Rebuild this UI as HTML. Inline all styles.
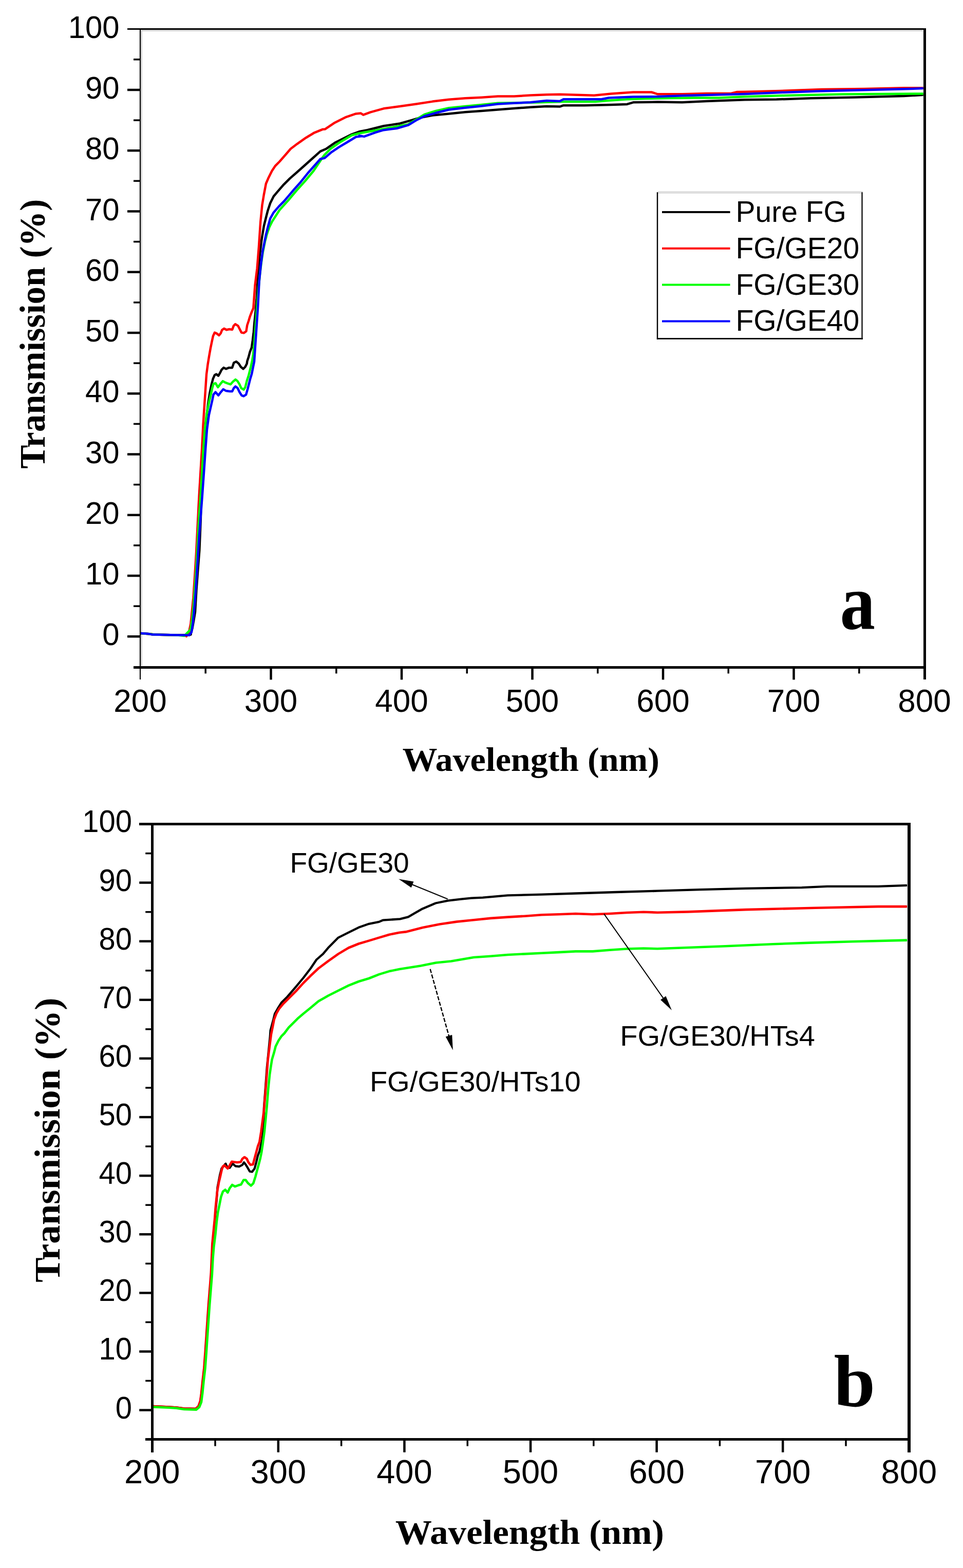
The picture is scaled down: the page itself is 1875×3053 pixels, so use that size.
<!DOCTYPE html>
<html><head><meta charset="utf-8"><title>Transmission spectra</title>
<style>html,body{margin:0;padding:0;background:#fff;overflow:hidden}svg{display:block}</style>
</head><body>
<svg width="1875" height="3053" viewBox="0 0 1875 3053"><rect width="1875" height="3053" fill="#fff"/><line x1="270.1" y1="56.7" x2="270.1" y2="1322" stroke="#e6e6e6" stroke-width="2.4" /><line x1="275.5" y1="59" x2="275.5" y2="1296" stroke="#cdcdcd" stroke-width="2.7" /><line x1="274" y1="53.7" x2="1797" y2="53.7" stroke="#eeeeee" stroke-width="1.6" /><line x1="274" y1="59.5" x2="1797" y2="59.5" stroke="#d4d4d4" stroke-width="2.8" /><path d="M273,1233 L290,1234.2 L300,1235.6 L320,1236 L345,1236.4 L368,1236.8 L371.5,1235.5 L371.9,1231.8 L374.4,1223.9 L377.4,1207 L379.9,1192 L382.4,1149.3 L385.3,1110.4 L388.3,1071.6 L390.8,1011.9 L391.8,966.9 L394.5,920.2 L397.2,873.5 L399.8,836.1 L402.6,808 L405.3,785 L408.5,765.1 L411.7,749.2 L414.8,737.3 L418,730.2 L421.2,728.6 L425.2,731.7 L428.3,726.2 L431.5,719.8 L435.5,715.9 L440.2,718.3 L445.8,715.9 L452.1,715.9 L455.3,706.3 L460.1,704 L464.8,707.9 L468.8,714.3 L473.6,718.3 L477.5,714.3 L480.7,707.9 L481.3,703.2 L484,695.2 L486.6,685.3 L489.9,676.7 L491.9,662.8 L493.9,646.3 L495.2,629.8 L496.6,616.5 L497.9,603.3 L499.8,580.7 L502.2,539.4 L505.5,498 L509.7,464.9 L513.8,440.1 L517.9,423.6 L521.3,410.4 L526.2,395.5 L532.8,382.3 L541.1,372.4 L552.7,359.1 L564.2,347.6 L577.5,336 L592.4,322.8 L607.2,309.5 L623.8,294.6 L635.3,289.7 L651.9,278.1 L668.4,269.8 L684.9,261.6 L699.4,256.3 L715.2,253.2 L747,245.2 L778.7,240.5 L801,234.1 L816.8,229.4 L842.2,224.6 L874,221.4 L905.7,218.3 L937.5,216 L969.2,213.5 L1001,211 L1032.7,208.7 L1064.4,207.1 L1090,207.6 L1097.1,205.2 L1137.6,205.2 L1190,204 L1221,202.9 L1232.9,199.3 L1280.5,198.6 L1328.1,199.3 L1375.7,196.9 L1450,194.3 L1511.9,193.6 L1578.6,191.2 L1664.3,189.5 L1759.5,187.1 L1797.6,184.8" fill="none" stroke="#000" stroke-width="4.5" stroke-linejoin="round" stroke-linecap="butt" /><path d="M273,1233 L290,1234.2 L300,1235.6 L320,1236 L345,1236.4 L360,1237 L363,1238.8 L368.4,1228.9 L371.4,1213.9 L373.9,1189.1 L376.4,1164.2 L379.4,1119.4 L381.9,1079.6 L384.4,1029.9 L387.6,966.9 L390.4,920.2 L393.2,873.5 L395.6,826.7 L397.4,798.7 L402,729 L404.6,709.1 L407.3,692.6 L409.9,678 L412.6,664.8 L414.9,654.2 L417.9,647.6 L421.2,648.9 L426.5,652.9 L429.8,648.9 L432.4,642.3 L436.4,639.7 L441,642.3 L446.3,641 L452.2,641.7 L454.9,634.4 L458.2,631.1 L463.5,634.4 L466.8,641 L470.1,647.6 L474.7,648.3 L479.4,645 L481.3,633.1 L484,625.1 L486.6,616.5 L489.9,607.9 L493.3,600 L496.5,555.9 L500.6,522.8 L503.9,481.5 L507.2,431.9 L510.5,398.8 L513.8,379 L517.9,357.5 L522.9,345.9 L529.5,332.7 L536.1,322.8 L544.4,314.5 L556,301.3 L565.9,289.7 L579.1,279.8 L595.7,268.2 L612.2,258.3 L628.7,251.7 L632.7,251.6 L651.7,238.9 L674,227.8 L693,221.4 L702.5,220.5 L707.3,223.7 L721.6,218.3 L747,211.3 L778.7,207.1 L810.5,202.4 L842.2,197.6 L874,193.8 L905.7,191.3 L937.5,189.7 L969.2,187.5 L1001,187.5 L1032.7,185.6 L1064.4,184.3 L1090,183.8 L1156.7,185.7 L1190,182.6 L1232.9,179.5 L1268.6,179.5 L1280.5,183.3 L1328.1,183.3 L1375.7,181.9 L1423.3,181.9 L1435.2,179 L1450,178.8 L1519,176.9 L1600,174 L1683.3,172.9 L1759.5,171.2 L1797.6,171.2" fill="none" stroke="#f00" stroke-width="4.5" stroke-linejoin="round" stroke-linecap="butt" /><path d="M273,1233 L290,1234.2 L300,1235.6 L320,1236 L345,1236.4 L359,1238 L370.9,1225.9 L373.9,1207 L376.4,1184.1 L379.4,1144.3 L381.9,1109.5 L384.4,1064.7 L387.3,1010 L390.4,966.9 L393.2,920.2 L396,873.5 L398.8,836.1 L402.1,808 L406.9,783.3 L410.1,769.8 L413.3,755.6 L415.6,747.6 L419.6,746 L424.4,754 L429.1,747.6 L433.9,742.1 L439.4,745.2 L444.2,746.8 L449,748.4 L453.7,742.9 L458.5,738.9 L462.5,742.1 L466.4,748.4 L469.6,755.6 L474.4,758.7 L477.5,754 L480.7,741.3 L483.9,731.7 L486.3,722.2 L488.7,712.7 L491,702.4 L493,690 L495.5,665 L498,630 L500.5,597 L503,565 L506,535 L509,510 L512,490 L516,470 L520,455 L524.5,442 L529.5,431.9 L544.4,408.7 L560.9,390.5 L577.5,370.7 L594,352.5 L610.5,332.7 L627.1,307.9 L632,301.3 L643.6,289.7 L660.1,278.1 L684.9,263.2 L699.4,259.5 L747,251 L794.6,242.1 L826.3,223 L848.6,216 L874,210.3 L905.7,207.1 L937.5,204 L969.2,200.8 L1032.7,199.8 L1094.8,198.1 L1118.6,198.1 L1159,198.1 L1185.2,195.7 L1221,193.3 L1256.7,192.1 L1304.3,191 L1351.9,190.5 L1399.5,190.5 L1450,188.3 L1528.6,186 L1640.5,183.6 L1711.9,183.1 L1797.6,182.4" fill="none" stroke="#0f0" stroke-width="4.5" stroke-linejoin="round" stroke-linecap="butt" /><path d="M273,1232.9 L288.8,1234 L296.7,1235.6 L320.6,1236 L344.4,1236.4 L368.2,1236.8 L372.9,1230.8 L375.4,1213.9 L377.9,1189.1 L380.4,1159.2 L382.4,1129.4 L384.9,1089.6 L387.3,1049.8 L393.7,966.9 L397,920.2 L400.2,873.5 L403,836.1 L406.8,808 L413.3,779.4 L415.6,768.3 L419.6,763.5 L425.2,769.8 L429.9,763.5 L434.7,757.9 L440.2,761.1 L447.4,761.9 L452.1,761.9 L455.3,755.6 L458.5,752.4 L462.5,755.6 L466.4,763.5 L470.4,769.8 L474.4,771.4 L479.1,768.3 L482.3,757.1 L484.7,747.6 L487.1,738.1 L490.2,727.8 L492.6,715.9 L495,704 L502.2,597.2 L504.7,547.6 L508,514.6 L511.3,489.7 L514.6,473.2 L517.9,456.7 L522.1,440.1 L526.2,425.3 L532.8,413.7 L542.8,402.1 L552.7,392.2 L562.6,380.6 L572.5,369 L585.7,354.2 L599,337.6 L610.5,324.4 L623.8,309.5 L632,307.9 L645.3,296.3 L660.1,286.4 L676.7,276.5 L693.2,266.5 L704.8,264.9 L699.4,264.3 L708.9,265.9 L731.1,257.9 L747,253.2 L772.4,250 L794.6,243.7 L810.5,234.1 L826.3,226.2 L848.6,219.8 L874,213.5 L905.7,209.7 L937.5,206.5 L969.2,202.4 L1001,200.8 L1032.7,199.2 L1064.4,196 L1090,196.9 L1097.1,193.3 L1171,193.3 L1185.2,190.5 L1232.9,188.6 L1280.5,188.1 L1328.1,186.2 L1375.7,185 L1423.3,183.8 L1450,183.1 L1521.4,180 L1592.9,177.6 L1683.3,175.2 L1752.4,173.6 L1797.6,172.1" fill="none" stroke="#00f" stroke-width="4.5" stroke-linejoin="round" stroke-linecap="butt" /><line x1="273" y1="56.7" x2="273" y2="1323.4" stroke="#000" stroke-width="2.2" shape-rendering="crispEdges"/><line x1="248" y1="56.7" x2="1802.5" y2="56.7" stroke="#000" stroke-width="3" shape-rendering="crispEdges"/><line x1="1800" y1="55.2" x2="1800" y2="1323.4" stroke="#000" stroke-width="5" shape-rendering="crispEdges"/><line x1="260" y1="1299.3" x2="1800" y2="1299.3" stroke="#000" stroke-width="5.5" shape-rendering="crispEdges"/><line x1="248" y1="1239.3" x2="273" y2="1239.3" stroke="#000" stroke-width="4.5" /><line x1="260" y1="1180.2" x2="273" y2="1180.2" stroke="#000" stroke-width="3.5" /><line x1="248" y1="1121" x2="273" y2="1121" stroke="#000" stroke-width="4.5" /><line x1="260" y1="1061.9" x2="273" y2="1061.9" stroke="#000" stroke-width="3.5" /><line x1="248" y1="1002.8" x2="273" y2="1002.8" stroke="#000" stroke-width="4.5" /><line x1="260" y1="943.6" x2="273" y2="943.6" stroke="#000" stroke-width="3.5" /><line x1="248" y1="884.5" x2="273" y2="884.5" stroke="#000" stroke-width="4.5" /><line x1="260" y1="825.4" x2="273" y2="825.4" stroke="#000" stroke-width="3.5" /><line x1="248" y1="766.3" x2="273" y2="766.3" stroke="#000" stroke-width="4.5" /><line x1="260" y1="707.1" x2="273" y2="707.1" stroke="#000" stroke-width="3.5" /><line x1="248" y1="648" x2="273" y2="648" stroke="#000" stroke-width="4.5" /><line x1="260" y1="588.9" x2="273" y2="588.9" stroke="#000" stroke-width="3.5" /><line x1="248" y1="529.7" x2="273" y2="529.7" stroke="#000" stroke-width="4.5" /><line x1="260" y1="470.6" x2="273" y2="470.6" stroke="#000" stroke-width="3.5" /><line x1="248" y1="411.5" x2="273" y2="411.5" stroke="#000" stroke-width="4.5" /><line x1="260" y1="352.3" x2="273" y2="352.3" stroke="#000" stroke-width="3.5" /><line x1="248" y1="293.2" x2="273" y2="293.2" stroke="#000" stroke-width="4.5" /><line x1="260" y1="234.1" x2="273" y2="234.1" stroke="#000" stroke-width="3.5" /><line x1="248" y1="175" x2="273" y2="175" stroke="#000" stroke-width="4.5" /><line x1="260" y1="115.8" x2="273" y2="115.8" stroke="#000" stroke-width="3.5" /><line x1="400.2" y1="1298.4" x2="400.2" y2="1311.4" stroke="#000" stroke-width="3.5" /><line x1="527.5" y1="1298.4" x2="527.5" y2="1323.4" stroke="#000" stroke-width="4.5" /><line x1="654.8" y1="1298.4" x2="654.8" y2="1311.4" stroke="#000" stroke-width="3.5" /><line x1="782" y1="1298.4" x2="782" y2="1323.4" stroke="#000" stroke-width="4.5" /><line x1="909.2" y1="1298.4" x2="909.2" y2="1311.4" stroke="#000" stroke-width="3.5" /><line x1="1036.5" y1="1298.4" x2="1036.5" y2="1323.4" stroke="#000" stroke-width="4.5" /><line x1="1163.8" y1="1298.4" x2="1163.8" y2="1311.4" stroke="#000" stroke-width="3.5" /><line x1="1291" y1="1298.4" x2="1291" y2="1323.4" stroke="#000" stroke-width="4.5" /><line x1="1418.2" y1="1298.4" x2="1418.2" y2="1311.4" stroke="#000" stroke-width="3.5" /><line x1="1545.5" y1="1298.4" x2="1545.5" y2="1323.4" stroke="#000" stroke-width="4.5" /><line x1="1672.8" y1="1298.4" x2="1672.8" y2="1311.4" stroke="#000" stroke-width="3.5" /><text transform="translate(232.5,1256.3) scale(0.965,1)" font-family="'Liberation Sans', Arial, sans-serif" font-size="62" text-anchor="end">0</text><text transform="translate(232.5,1138) scale(0.965,1)" font-family="'Liberation Sans', Arial, sans-serif" font-size="62" text-anchor="end">10</text><text transform="translate(232.5,1019.8) scale(0.965,1)" font-family="'Liberation Sans', Arial, sans-serif" font-size="62" text-anchor="end">20</text><text transform="translate(232.5,901.5) scale(0.965,1)" font-family="'Liberation Sans', Arial, sans-serif" font-size="62" text-anchor="end">30</text><text transform="translate(232.5,783.3) scale(0.965,1)" font-family="'Liberation Sans', Arial, sans-serif" font-size="62" text-anchor="end">40</text><text transform="translate(232.5,665) scale(0.965,1)" font-family="'Liberation Sans', Arial, sans-serif" font-size="62" text-anchor="end">50</text><text transform="translate(232.5,546.7) scale(0.965,1)" font-family="'Liberation Sans', Arial, sans-serif" font-size="62" text-anchor="end">60</text><text transform="translate(232.5,428.5) scale(0.965,1)" font-family="'Liberation Sans', Arial, sans-serif" font-size="62" text-anchor="end">70</text><text transform="translate(232.5,310.2) scale(0.965,1)" font-family="'Liberation Sans', Arial, sans-serif" font-size="62" text-anchor="end">80</text><text transform="translate(232.5,192) scale(0.965,1)" font-family="'Liberation Sans', Arial, sans-serif" font-size="62" text-anchor="end">90</text><text transform="translate(232.5,73.7) scale(0.965,1)" font-family="'Liberation Sans', Arial, sans-serif" font-size="62" text-anchor="end">100</text><text transform="translate(273,1385.8) scale(0.983,1)" font-family="'Liberation Sans', Arial, sans-serif" font-size="63" text-anchor="middle">200</text><text transform="translate(527.5,1385.8) scale(0.983,1)" font-family="'Liberation Sans', Arial, sans-serif" font-size="63" text-anchor="middle">300</text><text transform="translate(782,1385.8) scale(0.983,1)" font-family="'Liberation Sans', Arial, sans-serif" font-size="63" text-anchor="middle">400</text><text transform="translate(1036.5,1385.8) scale(0.983,1)" font-family="'Liberation Sans', Arial, sans-serif" font-size="63" text-anchor="middle">500</text><text transform="translate(1291,1385.8) scale(0.983,1)" font-family="'Liberation Sans', Arial, sans-serif" font-size="63" text-anchor="middle">600</text><text transform="translate(1545.5,1385.8) scale(0.983,1)" font-family="'Liberation Sans', Arial, sans-serif" font-size="63" text-anchor="middle">700</text><text transform="translate(1800,1385.8) scale(0.983,1)" font-family="'Liberation Sans', Arial, sans-serif" font-size="63" text-anchor="middle">800</text><line x1="1281.2" y1="374.6" x2="1679.8" y2="374.6" stroke="#dedede" stroke-width="4.6" /><line x1="1280" y1="374.2" x2="1280" y2="660.7" stroke="#000" stroke-width="2.4" /><line x1="1678.5" y1="374.2" x2="1678.5" y2="660.7" stroke="#2a2a2a" stroke-width="2.7" /><line x1="1278.9" y1="659.4" x2="1679.8" y2="659.4" stroke="#000" stroke-width="2.6" /><line x1="1289" y1="413" x2="1421.5" y2="413" stroke="#000" stroke-width="4" /><text x="1432.5" y="432" font-family="'Liberation Sans', Arial, sans-serif" font-size="57" font-weight="normal" text-anchor="start" >Pure FG</text><line x1="1289" y1="483.8" x2="1421.5" y2="483.8" stroke="#f00" stroke-width="4" /><text x="1432.5" y="502.8" font-family="'Liberation Sans', Arial, sans-serif" font-size="57" font-weight="normal" text-anchor="start" >FG/GE20</text><line x1="1289" y1="554.6" x2="1421.5" y2="554.6" stroke="#0f0" stroke-width="4" /><text x="1432.5" y="573.6" font-family="'Liberation Sans', Arial, sans-serif" font-size="57" font-weight="normal" text-anchor="start" >FG/GE30</text><line x1="1289" y1="625.4" x2="1421.5" y2="625.4" stroke="#00f" stroke-width="4" /><text x="1432.5" y="644.4" font-family="'Liberation Sans', Arial, sans-serif" font-size="57" font-weight="normal" text-anchor="start" >FG/GE40</text><text x="1033.6" y="1501" font-family="'Liberation Serif', 'Times New Roman', serif" font-size="66" font-weight="bold" text-anchor="middle" textLength="500.4" lengthAdjust="spacingAndGlyphs">Wavelength (nm)</text><text transform="translate(87,650.2) rotate(-90)" x="0" y="0" font-family="'Liberation Serif', 'Times New Roman', serif" font-size="68.8" font-weight="bold" text-anchor="middle" textLength="524.6" lengthAdjust="spacingAndGlyphs">Transmission (%)</text><text transform="translate(1641.7,1223.5) scale(0.89,1)" x="-6.9" y="0" font-family="'Liberation Serif', 'Times New Roman', serif" font-size="154" font-weight="bold">a</text><path d="M297.4,2738 L328.6,2739.5 L343.5,2740.5 L358.3,2742.5 L381,2743 L386.5,2738 L390,2728 L392.5,2712.7 L394.8,2690 L397.8,2664 L400.1,2633 L402.1,2603 L406.3,2542 L411.2,2481 L412.6,2450 L413.8,2421.8 L416.2,2397.4 L418.6,2373.1 L420,2354.8 L421.8,2336.5 L423.5,2311.7 L428.3,2287.1 L431.4,2275.2 L439.4,2265.7 L441.7,2271.3 L447.3,2273.7 L452.9,2265.7 L458.4,2270.5 L465.6,2271.3 L471.9,2268.1 L475.1,2263.3 L478.3,2267.3 L482.2,2273.7 L486.2,2280.8 L491,2281.6 L495.7,2275.2 L498.9,2263.3 L502.1,2249.8 L505.2,2241.9 L508.4,2227.6 L510.4,2219.7 L513.2,2195.9 L513.9,2157 L516.9,2117.3 L519.8,2077.6 L522.8,2047.9 L525.8,2018.1 L526.6,2006.4 L532.3,1985 L535.1,1973.7 L540.8,1963.7 L547.9,1952.3 L559.3,1941 L576.4,1921.1 L590.6,1904 L604.8,1885.5 L616.2,1868.5 L629,1857.4 L638.9,1845.5 L648.8,1835.6 L658.7,1825.6 L678.6,1815.7 L698.4,1805.8 L718.3,1798.8 L738.1,1794.9 L745.2,1791.7 L778.9,1789.3 L794.8,1785.3 L808.6,1777.4 L822.5,1769.4 L848.3,1758.5 L872.1,1753.6 L897.9,1750.6 L917.8,1748.6 L940,1747.6 L988.4,1743.3 L1054.6,1741.7 L1120.7,1739.5 L1200,1737 L1280,1734.7 L1362.7,1732.1 L1452,1729.8 L1561.1,1728.1 L1610.7,1725.8 L1709.9,1725.8 L1766.1,1723.8" fill="none" stroke="#000" stroke-width="4.3" stroke-linejoin="round" stroke-linecap="butt" /><path d="M297.4,2738 L328.6,2739.5 L343.5,2740.5 L358.3,2742.5 L381,2743 L386.5,2738 L390,2728 L392,2712.7 L394.3,2690 L397.3,2664 L399.6,2633 L401.6,2603 L405.8,2542 L410.7,2481 L412.1,2450 L413.3,2421.8 L415.7,2397.4 L418.1,2373.1 L419.4,2354.8 L421.2,2336.5 L423.1,2318.9 L425.9,2303 L428.7,2291.1 L431.4,2279.2 L433.8,2271.3 L437,2268.9 L443.3,2275.2 L447.3,2268.9 L451.3,2261.7 L456,2262.5 L461.6,2263.3 L468.7,2262.5 L471.9,2256.2 L475.9,2253 L480.6,2256.2 L483.8,2263.3 L487.8,2268.1 L492.5,2267.3 L495.7,2255.4 L498.9,2243.5 L502.1,2231.6 L505.2,2223.7 L508.4,2203.8 L513.8,2162.7 L516.7,2127.2 L519.5,2091.6 L521.6,2063.2 L525.2,2034.8 L528,2013.5 L530.9,1999.3 L533.7,1985 L538,1973.7 L543.7,1963.7 L550.8,1955.2 L562.1,1943.8 L576.4,1929.6 L590.6,1914 L604.8,1899.8 L620,1885.5 L638.9,1871.3 L658.7,1857.4 L678.6,1845.5 L698.4,1837.5 L718.3,1831.6 L738.1,1825.6 L757.9,1819.7 L777.8,1815.7 L790,1814.4 L823.1,1806.1 L856.1,1799.5 L889.2,1794.6 L922.3,1791.3 L955.3,1787.9 L988.4,1785.6 L1021.5,1783.7 L1054.6,1781.3 L1087.6,1780.3 L1120.7,1779 L1153.8,1780.3 L1186.8,1779 L1219.9,1777 L1253,1775.7 L1280,1776.7 L1339.5,1775.4 L1452,1771.1 L1587.5,1767.8 L1709.9,1765.1 L1766.1,1765.1" fill="none" stroke="#f00" stroke-width="4.6" stroke-linejoin="round" stroke-linecap="butt" /><path d="M297.4,2739.5 L328.6,2740.7 L343.5,2741.7 L358.3,2744 L382.1,2744.6 L388.1,2739.7 L392,2729.8 L394.2,2712.7 L396.5,2690 L399.5,2664 L401.8,2633 L403.8,2603 L408,2542 L412.9,2481 L414.5,2450 L416.3,2428 L419.4,2403.5 L421.8,2379.2 L424.2,2360.9 L427.3,2345.7 L430.3,2330.5 L434,2320.1 L438.6,2316.5 L443.3,2322.1 L447.3,2313.3 L452.1,2307 L457.6,2310.2 L464,2307.8 L469.5,2306.2 L474.3,2297.5 L478.3,2297.5 L483,2303.8 L488.6,2308.6 L493.3,2303.8 L497.3,2291.1 L500.5,2279.2 L503.7,2267.3 L506.8,2255.4 L509.2,2243.5 L511.6,2227.6 L514.8,2203.8 L519.5,2155.6 L522.3,2120 L525.2,2091.6 L527.3,2077.4 L529.5,2063.2 L533.7,2049 L536.6,2037.6 L542.2,2026.3 L547.9,2017.7 L553.6,2012 L562.1,2000.7 L570.7,1992.1 L579.2,1983.6 L590.6,1973.7 L604.8,1962.3 L620,1949.5 L638.9,1938.7 L658.7,1928.8 L678.6,1918.9 L698.4,1911 L718.3,1905 L738.1,1897.1 L757.9,1891.1 L777.8,1887.1 L819,1880.4 L848.8,1874.5 L878.6,1871.5 L922.3,1864 L955.3,1861.7 L988.4,1859 L1021.5,1857.4 L1054.6,1855.7 L1087.6,1854.1 L1120.7,1852.4 L1153.8,1852.4 L1186.8,1849.8 L1219.9,1847.5 L1253,1846.5 L1280,1847.2 L1412.3,1842.2 L1504.9,1838.2 L1577.6,1835.6 L1660.3,1833.3 L1766.1,1830.6" fill="none" stroke="#0f0" stroke-width="4.6" stroke-linejoin="round" stroke-linecap="butt" /><line x1="296.2" y1="1604.5" x2="296.2" y2="2827.7" stroke="#000" stroke-width="5" shape-rendering="crispEdges"/><line x1="271.2" y1="1604.5" x2="1772.5" y2="1604.5" stroke="#000" stroke-width="5" shape-rendering="crispEdges"/><line x1="1769.8" y1="1602" x2="1769.8" y2="2827.7" stroke="#000" stroke-width="5.5" shape-rendering="crispEdges"/><line x1="283.2" y1="2802.7" x2="1769.8" y2="2802.7" stroke="#000" stroke-width="4.5" shape-rendering="crispEdges"/><line x1="271.2" y1="2745.6" x2="296.2" y2="2745.6" stroke="#000" stroke-width="4.5" /><line x1="283.2" y1="2688.5" x2="296.2" y2="2688.5" stroke="#000" stroke-width="3.5" /><line x1="271.2" y1="2631.5" x2="296.2" y2="2631.5" stroke="#000" stroke-width="4.5" /><line x1="283.2" y1="2574.4" x2="296.2" y2="2574.4" stroke="#000" stroke-width="3.5" /><line x1="271.2" y1="2517.4" x2="296.2" y2="2517.4" stroke="#000" stroke-width="4.5" /><line x1="283.2" y1="2460.3" x2="296.2" y2="2460.3" stroke="#000" stroke-width="3.5" /><line x1="271.2" y1="2403.3" x2="296.2" y2="2403.3" stroke="#000" stroke-width="4.5" /><line x1="283.2" y1="2346.2" x2="296.2" y2="2346.2" stroke="#000" stroke-width="3.5" /><line x1="271.2" y1="2289.2" x2="296.2" y2="2289.2" stroke="#000" stroke-width="4.5" /><line x1="283.2" y1="2232.1" x2="296.2" y2="2232.1" stroke="#000" stroke-width="3.5" /><line x1="271.2" y1="2175.1" x2="296.2" y2="2175.1" stroke="#000" stroke-width="4.5" /><line x1="283.2" y1="2118" x2="296.2" y2="2118" stroke="#000" stroke-width="3.5" /><line x1="271.2" y1="2060.9" x2="296.2" y2="2060.9" stroke="#000" stroke-width="4.5" /><line x1="283.2" y1="2003.9" x2="296.2" y2="2003.9" stroke="#000" stroke-width="3.5" /><line x1="271.2" y1="1946.8" x2="296.2" y2="1946.8" stroke="#000" stroke-width="4.5" /><line x1="283.2" y1="1889.8" x2="296.2" y2="1889.8" stroke="#000" stroke-width="3.5" /><line x1="271.2" y1="1832.7" x2="296.2" y2="1832.7" stroke="#000" stroke-width="4.5" /><line x1="283.2" y1="1775.7" x2="296.2" y2="1775.7" stroke="#000" stroke-width="3.5" /><line x1="271.2" y1="1718.6" x2="296.2" y2="1718.6" stroke="#000" stroke-width="4.5" /><line x1="283.2" y1="1661.6" x2="296.2" y2="1661.6" stroke="#000" stroke-width="3.5" /><line x1="419" y1="2802.7" x2="419" y2="2815.7" stroke="#000" stroke-width="3.5" /><line x1="541.8" y1="2802.7" x2="541.8" y2="2827.7" stroke="#000" stroke-width="4.5" /><line x1="664.6" y1="2802.7" x2="664.6" y2="2815.7" stroke="#000" stroke-width="3.5" /><line x1="787.4" y1="2802.7" x2="787.4" y2="2827.7" stroke="#000" stroke-width="4.5" /><line x1="910.2" y1="2802.7" x2="910.2" y2="2815.7" stroke="#000" stroke-width="3.5" /><line x1="1033" y1="2802.7" x2="1033" y2="2827.7" stroke="#000" stroke-width="4.5" /><line x1="1155.8" y1="2802.7" x2="1155.8" y2="2815.7" stroke="#000" stroke-width="3.5" /><line x1="1278.6" y1="2802.7" x2="1278.6" y2="2827.7" stroke="#000" stroke-width="4.5" /><line x1="1401.4" y1="2802.7" x2="1401.4" y2="2815.7" stroke="#000" stroke-width="3.5" /><line x1="1524.2" y1="2802.7" x2="1524.2" y2="2827.7" stroke="#000" stroke-width="4.5" /><line x1="1647" y1="2802.7" x2="1647" y2="2815.7" stroke="#000" stroke-width="3.5" /><text transform="translate(257,2761.5) scale(0.95,1)" font-family="'Liberation Sans', Arial, sans-serif" font-size="61" text-anchor="end">0</text><text transform="translate(257,2647.4) scale(0.95,1)" font-family="'Liberation Sans', Arial, sans-serif" font-size="61" text-anchor="end">10</text><text transform="translate(257,2533.3) scale(0.95,1)" font-family="'Liberation Sans', Arial, sans-serif" font-size="61" text-anchor="end">20</text><text transform="translate(257,2419.2) scale(0.95,1)" font-family="'Liberation Sans', Arial, sans-serif" font-size="61" text-anchor="end">30</text><text transform="translate(257,2305.1) scale(0.95,1)" font-family="'Liberation Sans', Arial, sans-serif" font-size="61" text-anchor="end">40</text><text transform="translate(257,2191) scale(0.95,1)" font-family="'Liberation Sans', Arial, sans-serif" font-size="61" text-anchor="end">50</text><text transform="translate(257,2076.8) scale(0.95,1)" font-family="'Liberation Sans', Arial, sans-serif" font-size="61" text-anchor="end">60</text><text transform="translate(257,1962.7) scale(0.95,1)" font-family="'Liberation Sans', Arial, sans-serif" font-size="61" text-anchor="end">70</text><text transform="translate(257,1848.6) scale(0.95,1)" font-family="'Liberation Sans', Arial, sans-serif" font-size="61" text-anchor="end">80</text><text transform="translate(257,1734.5) scale(0.95,1)" font-family="'Liberation Sans', Arial, sans-serif" font-size="61" text-anchor="end">90</text><text transform="translate(257,1620.4) scale(0.95,1)" font-family="'Liberation Sans', Arial, sans-serif" font-size="61" text-anchor="end">100</text><text transform="translate(296.2,2888.3) scale(1,1)" font-family="'Liberation Sans', Arial, sans-serif" font-size="65" text-anchor="middle">200</text><text transform="translate(541.8,2888.3) scale(1,1)" font-family="'Liberation Sans', Arial, sans-serif" font-size="65" text-anchor="middle">300</text><text transform="translate(787.4,2888.3) scale(1,1)" font-family="'Liberation Sans', Arial, sans-serif" font-size="65" text-anchor="middle">400</text><text transform="translate(1033,2888.3) scale(1,1)" font-family="'Liberation Sans', Arial, sans-serif" font-size="65" text-anchor="middle">500</text><text transform="translate(1278.6,2888.3) scale(1,1)" font-family="'Liberation Sans', Arial, sans-serif" font-size="65" text-anchor="middle">600</text><text transform="translate(1524.2,2888.3) scale(1,1)" font-family="'Liberation Sans', Arial, sans-serif" font-size="65" text-anchor="middle">700</text><text transform="translate(1769.8,2888.3) scale(1,1)" font-family="'Liberation Sans', Arial, sans-serif" font-size="65" text-anchor="middle">800</text><line x1="871.7" y1="1750.5" x2="801.2" y2="1721.7" stroke="#000" stroke-width="2" /><polygon points="776.2,1711.5 805.4,1716.6 800.7,1728.3" fill="#000"/><line x1="1176" y1="1779.4" x2="1292.4" y2="1944.8" stroke="#000" stroke-width="2" /><polygon points="1307.9,1966.9 1286.1,1946.8 1296.4,1939.6" fill="#000"/><line x1="837.6" y1="1886.8" x2="874.5" y2="2018.8" stroke="#000" stroke-width="2.4" stroke-dasharray="8 3"/><polygon points="881.8,2044.8 867.7,2018.6 880.2,2015.1" fill="#000"/><text x="564.4" y="1699.4" font-family="'Liberation Sans', Arial, sans-serif" font-size="55" font-weight="normal" text-anchor="start" >FG/GE30</text><text x="1207.2" y="2035.6" font-family="'Liberation Sans', Arial, sans-serif" font-size="56" font-weight="normal" text-anchor="start" >FG/GE30/HTs4</text><text x="719.9" y="2124.5" font-family="'Liberation Sans', Arial, sans-serif" font-size="56" font-weight="normal" text-anchor="start" >FG/GE30/HTs10</text><text x="1031.4" y="3005.5" font-family="'Liberation Serif', 'Times New Roman', serif" font-size="68.5" font-weight="bold" text-anchor="middle" textLength="523.3" lengthAdjust="spacingAndGlyphs">Wavelength (nm)</text><text transform="translate(115.7,2219.8) rotate(-90)" x="0" y="0" font-family="'Liberation Serif', 'Times New Roman', serif" font-size="70" font-weight="bold" text-anchor="middle" textLength="554.6" lengthAdjust="spacingAndGlyphs">Transmission (%)</text><text transform="translate(1627.8,2738)" x="-4.4" y="0" font-family="'Liberation Serif', 'Times New Roman', serif" font-size="145" font-weight="bold">b</text></svg>
</body></html>
